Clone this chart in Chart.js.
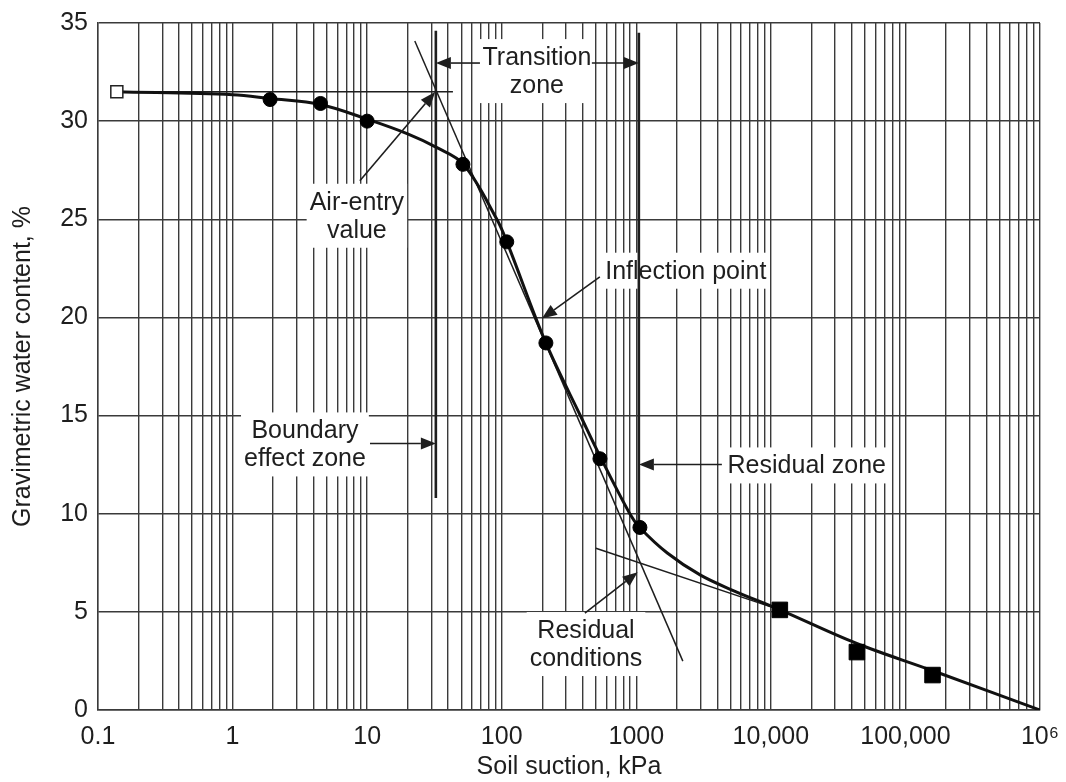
<!DOCTYPE html>
<html>
<head>
<meta charset="utf-8">
<title>Soil-water characteristic curve</title>
<script src="https://cdn.jsdelivr.net/npm/chart.js@4.4.1/dist/chart.umd.min.js"></script>
<style>
  html, body { margin: 0; padding: 0; background: #fff; }
  #wrap { width: 1066px; height: 782px; }
</style>
</head>
<body>
<div id="wrap"><canvas id="swccChart" width="1066" height="782"></canvas></div>
<script>
const curveSuction = [0.138, 1, 1.9, 4.5, 10, 20, 33, 52, 92, 110, 213, 400, 540, 895, 1060, 1700, 3000, 5200, 11700, 43000, 160000, 1000000];
const curveWater   = [31.5, 31.35, 31.15, 30.85, 30.1, 29.35, 28.65, 27.8, 25.0, 23.8, 18.7, 14.75, 12.9, 10.0, 9.3, 8.0, 6.87, 6.1, 5.1, 3.4, 2.0, 0];

// test points
const circleSuction = [1.9, 4.5, 10, 51.5, 109, 213, 537, 1064];
const circleWater   = [31.1, 30.9, 30.0, 27.8, 23.85, 18.7, 12.8, 9.3];
const squareSuction = [11660, 43600, 159000];
const squareWater   = [5.1, 2.95, 1.78];
const openSuction   = [0.138];
const openWater     = [31.5];

// construction lines
const airEntryLine     = [[0.138, 31.5], [43.4, 31.5]];
const steepTangent     = [[22.6, 34.08], [2218, 2.49]];
const residualTangent  = [[501, 8.24], [11660, 5.1]];
const airEntryMarker   = [[32.4, 34.6], [32.4, 10.8]];
const residualMarker   = [[1045, 34.5], [1045, 9.3]];

// axis ticks
const decadeValues = [0.1, 1, 10, 100, 1000, 10000, 100000, 1000000];
const decadeLabels = ['0.1', '1', '10', '100', '1000', '10,000', '100,000', '10\u2076'];
const yTickStep = 5;

// annotations (data coordinates)
const noteLabels = [
    { x: 182.6, y: 32.55, lines: ['Transition', 'zone'] },
    { x: 8.39, y: 25.18, lines: ['Air-entry', 'value'] },
    { x: 2334, y: 22.38, lines: ['Inflection point'] },
    { x: 3.45, y: 13.53, lines: ['Boundary', 'effect zone'] },
    { x: 18490, y: 12.46, lines: ['Residual zone'] },
    { x: 423, y: 3.36, lines: ['Residual', 'conditions'] }
];
const noteArrows = [
    { from: [68.9, 32.96], to: [32.4, 32.96] },
    { from: [467.7, 32.96], to: [1045, 32.96] },
    { from: [8.83, 26.96], to: [32.0, 31.48] },
    { from: [536, 22.07], to: [199, 19.94] },
    { from: [10.5, 13.58], to: [32.4, 13.58] },
    { from: [4325, 12.51], to: [1045, 12.51] },
    { from: [415, 4.93], to: [1023, 7.02] }
];

const FONT = '"Liberation Sans", Arial, Helvetica, sans-serif';
const INK = '#1e1e1e';
const GRID = '#3a3a3a';

function toPoints(xs, ys) {
    return xs.map((v, i) => ({ x: v, y: ys[i] }));
}
function pairPoints(pairs) {
    return pairs.map(p => ({ x: p[0], y: p[1] }));
}

const annotationPlugin = {
    id: 'swccNotes',
    beforeDatasetsDraw(chart) {
        const { ctx, scales } = chart;
        const lineGap = 28;
        ctx.save();
        ctx.font = '25px ' + FONT;
        ctx.textAlign = 'center';
        ctx.textBaseline = 'middle';
        noteLabels.forEach(note => {
            const cx = scales.x.getPixelForValue(note.x);
            const cy = scales.y.getPixelForValue(note.y);
            const w = Math.max(...note.lines.map(l => ctx.measureText(l).width)) + 6;
            const h = note.lines.length * lineGap + 8;
            ctx.fillStyle = '#fff';
            ctx.fillRect(cx - w / 2, cy - h / 2, w, h);
            ctx.fillStyle = INK;
            note.lines.forEach((line, i) => {
                ctx.fillText(line, cx, cy + (i - (note.lines.length - 1) / 2) * lineGap + 1);
            });
        });
        ctx.restore();
    },
    afterDatasetsDraw(chart) {
        const { ctx, scales } = chart;
        ctx.save();
        ctx.strokeStyle = INK;
        ctx.fillStyle = INK;
        ctx.lineWidth = 1.6;
        noteArrows.forEach(a => {
            const x1 = scales.x.getPixelForValue(a.from[0]);
            const y1 = scales.y.getPixelForValue(a.from[1]);
            const x2 = scales.x.getPixelForValue(a.to[0]);
            const y2 = scales.y.getPixelForValue(a.to[1]);
            const ang = Math.atan2(y2 - y1, x2 - x1);
            const len = 15, half = 6;
            const bx = x2 - len * Math.cos(ang);
            const by = y2 - len * Math.sin(ang);
            ctx.beginPath();
            ctx.moveTo(x1, y1);
            ctx.lineTo(bx, by);
            ctx.stroke();
            ctx.beginPath();
            ctx.moveTo(x2, y2);
            ctx.lineTo(bx + half * Math.sin(ang), by - half * Math.cos(ang));
            ctx.lineTo(bx - half * Math.sin(ang), by + half * Math.cos(ang));
            ctx.closePath();
            ctx.fill();
        });
        ctx.restore();
    }
};

document.addEventListener('DOMContentLoaded', function() {
    const canvas = document.getElementById('swccChart');
    if (!canvas) {
        console.error('Chart canvas not found!');
        return;
    }

    const guide = (pairs, width) => ({
        type: 'line',
        data: pairPoints(pairs),
        borderColor: INK,
        borderWidth: width,
        pointRadius: 0,
        tension: 0,
        order: 5
    });

    new Chart(canvas.getContext('2d'), {
        type: 'line',
        data: {
            datasets: [
                {
                    label: 'Curve',
                    data: toPoints(curveSuction, curveWater),
                    borderColor: '#111',
                    borderWidth: 3,
                    pointRadius: 0,
                    tension: 0.35,
                    order: 3
                },
                {
                    label: 'Circles',
                    data: toPoints(circleSuction, circleWater),
                    showLine: false,
                    pointStyle: 'circle',
                    pointRadius: 7,
                    backgroundColor: '#000',
                    borderColor: '#000',
                    order: 1
                },
                {
                    label: 'Squares',
                    data: toPoints(squareSuction, squareWater),
                    showLine: false,
                    pointStyle: 'rect',
                    pointRadius: 11,
                    backgroundColor: '#000',
                    borderColor: '#000',
                    order: 1
                },
                {
                    label: 'Open',
                    data: toPoints(openSuction, openWater),
                    showLine: false,
                    pointStyle: 'rect',
                    pointRadius: 8.5,
                    backgroundColor: '#fff',
                    borderColor: '#222',
                    pointBorderWidth: 1.5,
                    order: 1
                },
                guide(airEntryLine, 1.5),
                guide(steepTangent, 1.5),
                guide(residualTangent, 1.5),
                guide(airEntryMarker, 2.6),
                guide(residualMarker, 2.6)
            ]
        },
        options: {
            responsive: false,
            animation: false,
            layout: { padding: { top: 23, right: 26, left: 0, bottom: 0 } },
            plugins: {
                legend: { display: false },
                tooltip: { enabled: false }
            },
            scales: {
                x: {
                    type: 'logarithmic',
                    min: 0.1,
                    max: 1000000,
                    afterBuildTicks: scale => {
                        const vals = [];
                        for (let d = -1; d <= 5; d++) {
                            for (let k = 1; k <= 9; k++) {
                                vals.push(Number((k * Math.pow(10, d)).toPrecision(6)));
                            }
                        }
                        vals.push(1000000);
                        scale.ticks = vals.map(v => ({ value: v }));
                    },
                    afterFit: scale => {
                        scale.height = 72;
                        scale.paddingLeft = 0;
                        scale.paddingRight = 0;
                    },
                    ticks: {
                        autoSkip: false,
                        maxRotation: 0,
                        padding: 12,
                        color: INK,
                        font: { family: FONT, size: 25 },
                        callback: function(value) {
                            const idx = decadeValues.findIndex(d => Math.abs(d - value) / d < 1e-6);
                            return idx >= 0 ? decadeLabels[idx] : '';
                        }
                    },
                    grid: { color: GRID, lineWidth: 1.4, drawTicks: false },
                    border: { color: GRID, width: 1.4 },
                    title: {
                        display: true,
                        text: 'Soil suction, kPa',
                        color: INK,
                        font: { family: FONT, size: 25 },
                        padding: { top: 0, bottom: 0 }
                    }
                },
                y: {
                    min: 0,
                    max: 35,
                    afterFit: scale => {
                        scale.width = 98;
                        scale.paddingTop = 0;
                        scale.paddingBottom = 0;
                    },
                    ticks: {
                        stepSize: yTickStep,
                        padding: 10,
                        color: INK,
                        font: { family: FONT, size: 25 }
                    },
                    grid: { color: GRID, lineWidth: 1.4, drawTicks: false },
                    border: { color: GRID, width: 1.4 },
                    title: {
                        display: true,
                        text: 'Gravimetric water content, %',
                        color: INK,
                        font: { family: FONT, size: 25 },
                        padding: { top: 8, bottom: 0 }
                    }
                }
            }
        },
        plugins: [annotationPlugin]
    });
});
</script>
</body>
</html>
